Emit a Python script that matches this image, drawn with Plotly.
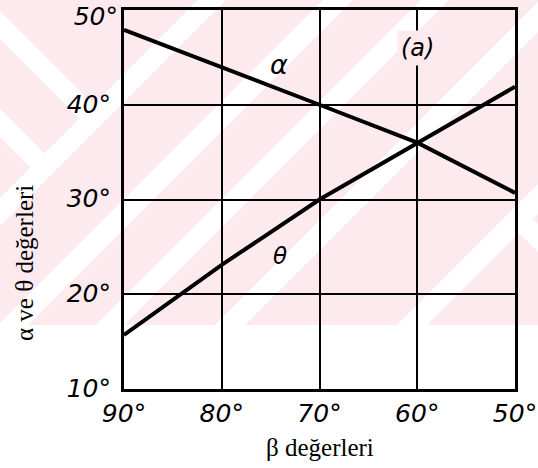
import plotly.graph_objects as go

# β values on the horizontal axis (degrees) and the two curves read at each grid line
beta = [90, 80, 70, 60, 50]
alpha = [47.9, 44.0, 40.0, 36.0, 30.7]
theta = [15.7, 23.1, 30.0, 36.0, 41.9]

x_ticks = [90, 80, 70, 60, 50]
x_ticktext = ["90°", "80°", "70°", "60°", "50°"]
y_ticks = [10, 20, 30, 40, 50]
y_ticktext = ["10°", "20°", "30°", "40°", "50°"]

W, H = 538, 468
ML, MR, MT, MB = 124, 23, 10, 79
PW, PH = W - ML - MR, H - MT - MB


def px(x):
    return (x - ML) / PW


def py(y):
    return (H - MB - y) / PH


def path(pts, color):
    d = "M " + " L ".join(f"{px(a):.4f},{py(b):.4f}" for a, b in pts) + " Z"
    return dict(type="path", xref="paper", yref="paper", path=d,
                fillcolor=color, line=dict(width=0), layer="below")


PINK = "#fdeaee"
BAND_BOTTOM = 325

# background watermark: pink band crossed by 45° white chevron stripes
shapes = [path([(-5, -5), (W + 5, -5), (W + 5, BAND_BOTTOM), (-5, BAND_BOTTOM)], PINK)]

# "/" stripes, given by x + y = s
for s, w in [(212, 28), (338, 30), (435, 28), (555, 30), (737, 30)]:
    pts = [(s - BAND_BOTTOM - w / 2, BAND_BOTTOM), (s - BAND_BOTTOM + w / 2, BAND_BOTTOM),
           (s + 5 + w / 2, -5), (s + 5 - w / 2, -5)]
    shapes.append(path(pts, "white"))

# "\" stripes (x - y = d) closing the chevrons on the left, up to the first "/" stripe
for d, w in [(-25, 28), (-123, 28)]:
    a, b = d - w / 2, d + w / 2
    pts = [(-5, -5 - a), (-5, -5 - b), ((212 + b) / 2, (212 - b) / 2), ((212 + a) / 2, (212 - a) / 2)]
    shapes.append(path(pts, "white"))

# "\" stripe on the right edge, beyond the last "/" stripe
for d, w in [(300, 28)]:
    a, b = d - w / 2, d + w / 2
    pts = [((737 + a) / 2, (737 - a) / 2), ((737 + b) / 2, (737 - b) / 2),
           (W + 5, W + 5 - b), (W + 5, W + 5 - a)]
    shapes.append(path(pts, "white"))

fig = go.Figure()
# α on the main y axis, θ on an overlaid y axis with the identical range
fig.add_trace(go.Scatter(x=beta, y=alpha, mode="lines", yaxis="y",
                         line=dict(color="black", width=4),
                         showlegend=False, hoverinfo="skip"))
fig.add_trace(go.Scatter(x=beta, y=theta, mode="lines", yaxis="y2",
                         line=dict(color="black", width=4),
                         showlegend=False, hoverinfo="skip"))

tickfont = dict(family="DejaVu Sans", size=25, color="black", style="italic")
axis_common = dict(tickfont=tickfont, showgrid=True, gridcolor="black", gridwidth=2,
                   showline=True, linecolor="black", linewidth=3, mirror=True,
                   ticks="", zeroline=False, ticklabeloverflow="allow",
                   automargin=False)
fig.update_xaxes(range=[90, 50], tickvals=x_ticks, ticktext=x_ticktext,
                 ticklabelstandoff=0, **axis_common)
# main y axis carries the grid and the 10°–40° labels; the overlaid axis shows
# the 50° label, nudged down so it stays inside the page
fig.update_layout(
    yaxis=dict(range=[10, 50], tickvals=y_ticks[:-1], ticktext=y_ticktext[:-1],
               ticklabelstandoff=5, ticklabelshift=-1, **axis_common),
    yaxis2=dict(overlaying="y", anchor="x", side="left",
                range=[10, 50], tickvals=y_ticks[-1:], ticktext=y_ticktext[-1:],
                tickfont=tickfont, showgrid=False, showline=False, zeroline=False,
                ticks="", ticklabelstandoff=5, ticklabelshift=6,
                ticklabeloverflow="allow", automargin=False))

annotations = [
    dict(x=74.1, y=44.3, xref="x", yref="y", text="α", showarrow=False,
         font=dict(family="DejaVu Sans", size=27, color="black", style="italic")),
    dict(x=74.0, y=24.0, xref="x", yref="y", text="θ", showarrow=False,
         font=dict(family="DejaVu Sans", size=23, color="black", style="italic")),
    dict(x=60.0, y=46.0, xref="x", yref="y", text="(a)", showarrow=False,
         font=dict(family="DejaVu Sans", size=24, color="black", style="italic"),
         bgcolor=PINK, borderpad=3),
    dict(x=px(320), y=py(447), xref="paper", yref="paper", text="β değerleri",
         xanchor="center", yanchor="middle", showarrow=False,
         font=dict(family="Liberation Serif", size=25, color="black")),
    dict(x=px(24), y=py(263), xref="paper", yref="paper", text="α ve θ değerleri",
         xanchor="center", yanchor="middle", textangle=-90, showarrow=False,
         font=dict(family="Liberation Serif", size=25, color="black")),
]

fig.update_layout(width=W, height=H,
                  margin=dict(l=ML, r=MR, t=MT, b=MB, pad=0, autoexpand=False),
                  paper_bgcolor="white", plot_bgcolor="rgba(0,0,0,0)",
                  shapes=shapes, annotations=annotations)

fig.write_html("out.html")
